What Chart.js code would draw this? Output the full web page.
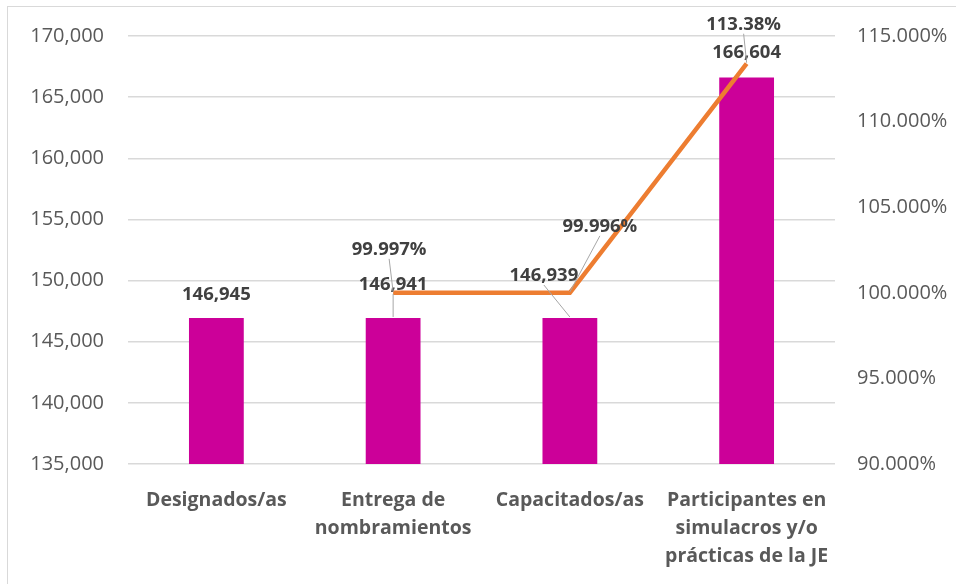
<!DOCTYPE html>
<html>
<head>
<meta charset="utf-8">
<script src="https://cdn.jsdelivr.net/npm/chart.js@4/dist/chart.umd.min.js"></script>
<style>
    body { margin: 0; background: #ffffff; }
    #wrap { position: relative; width: 956px; height: 584px; }
</style>
</head>
<body>
<div id="wrap"><canvas id="combo" width="956" height="584"></canvas></div>
<script>
// Data
const categories = [
    'Designados/as',
    ['Entrega de', 'nombramientos'],
    'Capacitados/as',
    ['Participantes en', 'simulacros y/o', 'prácticas de la JE']
];
const barValues = [146945, 146941, 146939, 166604];
const pctValues = [null, 99.997, 99.996, 113.38];
const pctLabels = [null, '99.997%', '99.996%', '113.38%'];

const FONT = '"Open Sans", sans-serif';
const TEXT_DARK = '#404040';
const TEXT_AXIS = '#595959';

// Label placement relative to the mark: [dx, dy, leader?]
const barLabelPos = [[0, -23, false], [0, -33, true], [-26, -42, true], [0, -25, false]];
const lineLabelPos = [null, [-4, -43, true], [30, -66, true], [-3, -39, true]];

const labelsPlugin = {
    id: 'valueLabels',
    beforeDraw(chart) {
        const ctx = chart.ctx;
        ctx.save();
        ctx.strokeStyle = '#d9d9d9';
        ctx.lineWidth = 1;
        ctx.strokeRect(7.5, 6.5, 1100, 1100);
        ctx.restore();
    },
    afterDatasetsDraw(chart) {
        const ctx = chart.ctx;
        ctx.save();
        ctx.font = 'bold 18.5px ' + FONT;
        ctx.textAlign = 'center';
        ctx.textBaseline = 'middle';

        const drawLabel = (text, px, py, pos) => {
            const lx = px + pos[0];
            const ly = py + pos[1];
            if (pos[2]) {
                // leader line from below the label to the mark
                ctx.strokeStyle = '#a6a6a6';
                ctx.lineWidth = 1;
                ctx.beginPath();
                ctx.moveTo(lx, ly + 9);
                ctx.lineTo(px, py - 1);
                ctx.stroke();
            }
            ctx.fillStyle = TEXT_DARK;
            ctx.fillText(text, lx, ly);
        };

        const barMeta = chart.getDatasetMeta(1);
        barMeta.data.forEach((el, i) => {
            drawLabel(barValues[i].toLocaleString('en-US'), el.x, el.y, barLabelPos[i]);
        });

        const lineMeta = chart.getDatasetMeta(0);
        lineMeta.data.forEach((el, i) => {
            if (pctValues[i] === null) return;
            drawLabel(pctLabels[i], el.x, el.y, lineLabelPos[i]);
        });
        ctx.restore();
    }
};

new Chart(document.getElementById('combo'), {
    data: {
        labels: categories,
        datasets: [
            {
                type: 'line',
                data: pctValues,
                yAxisID: 'y1',
                borderColor: '#ED7D31',
                borderWidth: 4.5,
                pointRadius: 0,
                tension: 0,
                order: 0
            },
            {
                type: 'bar',
                data: barValues,
                yAxisID: 'y',
                backgroundColor: '#CC0099',
                categoryPercentage: 1,
                barPercentage: 0.31,
                order: 1
            }
        ]
    },
    options: {
        responsive: false,
        animation: false,
        layout: { padding: { top: 35, left: 0, right: 0, bottom: 0 } },
        plugins: {
            legend: { display: false },
            tooltip: { enabled: false }
        },
        scales: {
            x: {
                grid: { display: false },
                border: { display: false },
                ticks: {
                    color: TEXT_AXIS,
                    font: { family: FONT, size: 19.5, weight: 'bold', lineHeight: 1.436 },
                    padding: 14,
                    maxRotation: 0,
                    autoSkip: false
                },
                afterFit(scale) { scale.height = 120; }
            },
            y: {
                position: 'left',
                min: 135000,
                max: 170000,
                grid: { color: '#d9d9d9', lineWidth: 1.5, drawTicks: false },
                border: { display: false },
                ticks: {
                    stepSize: 5000,
                    color: TEXT_AXIS,
                    padding: 24,
                    font: { family: FONT, size: 20 },
                    callback: v => v.toLocaleString('en-US')
                },
                afterFit(scale) { scale.width = 128; }
            },
            y1: {
                position: 'right',
                min: 90,
                max: 115,
                grid: { display: false, drawTicks: false },
                border: { display: false },
                ticks: {
                    stepSize: 5,
                    color: TEXT_AXIS,
                    padding: 22,
                    font: { family: FONT, size: 20 },
                    callback: v => v.toFixed(3) + '%'
                },
                afterFit(scale) { scale.width = 121; }
            }
        }
    },
    plugins: [labelsPlugin]
});
</script>
</body>
</html>
